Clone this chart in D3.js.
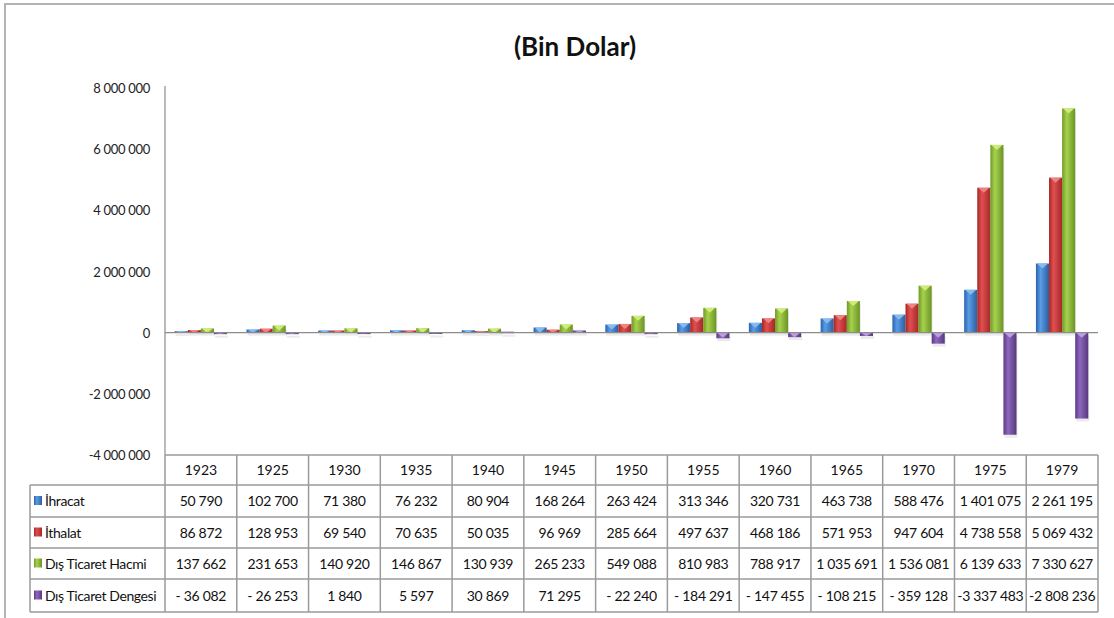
<!DOCTYPE html>
<html>
<head>
<meta charset="utf-8">
<script src="https://cdn.jsdelivr.net/npm/d3@7"></script>
<style>
  body { margin: 0; background: #fff; }
  text { font-family: Lato, "Liberation Sans", sans-serif; }
</style>
</head>
<body>
<div id="chart"></div>
<script>
// data (thousand dollars)
var years = ["1923", "1925", "1930", "1935", "1940", "1945", "1950", "1955", "1960", "1965", "1970", "1975", "1979"];
var ihracat = [50790, 102700, 71380, 76232, 80904, 168264, 263424, 313346, 320731, 463738, 588476, 1401075, 2261195];
var ithalat = [86872, 128953, 69540, 70635, 50035, 96969, 285664, 497637, 468186, 571953, 947604, 4738558, 5069432];
var hacim = [137662, 231653, 140920, 146867, 130939, 265233, 549088, 810983, 788917, 1035691, 1536081, 6139633, 7330627];
var denge = [-36082, -26253, 1840, 5597, 30869, 71295, -22240, -184291, -147455, -108215, -359128, -3337483, -2808236];
var seriesNames = ["İhracat", "İthalat", "Dış Ticaret Hacmi", "Dış Ticaret Dengesi"];
var yTicks = [-4000000, -2000000, 0, 2000000, 4000000, 6000000, 8000000];

var series = [
  { name: seriesNames[0], values: ihracat, c: ["#2a62ad", "#5a9ce6", "#2c5f9f"], tip: "#8cc0f2" },
  { name: seriesNames[1], values: ithalat, c: ["#a82626", "#e05050", "#a52828"], tip: "#f08a8a" },
  { name: seriesNames[2], values: hacim, c: ["#6f9a26", "#a6d24e", "#6b9324"], tip: "#d4f07e" },
  { name: seriesNames[3], values: denge, c: ["#5a3a85", "#8d67bd", "#57397f"], tip: "#c2a6e8" }
];

var W = 1114, H = 618;
var plotLeft = 165, plotRight = 1098, plotTop = 88, plotBottom = 455;
var rowH = [30, 32, 31, 31, 33];

var svg = d3.select("#chart").append("svg")
  .attr("width", W).attr("height", H);

var defs = svg.append("defs");
series.forEach(function (s, i) {
  var g = defs.append("linearGradient").attr("id", "grad" + i)
    .attr("x1", "0").attr("x2", "1").attr("y1", "0").attr("y2", "0");
  g.append("stop").attr("offset", "0").attr("stop-color", s.c[0]);
  g.append("stop").attr("offset", "0.35").attr("stop-color", s.c[1]);
  g.append("stop").attr("offset", "1").attr("stop-color", s.c[2]);
});

// outer frame
svg.append("path")
  .attr("d", "M5," + (H + 5) + " V4 H" + (W + 5))
  .attr("fill", "none").attr("stroke", "#b4b4b4").attr("stroke-width", 2);

// title
svg.append("text")
  .attr("x", 575).attr("y", 56)
  .attr("text-anchor", "middle")
  .style("font-size", "26px").style("font-weight", "bold")
  .attr("fill", "#111")
  .text("(Bin Dolar)");

var x = d3.scaleBand().domain(years).range([plotLeft, plotRight]).padding(0);
var x1 = d3.scaleBand().domain(d3.range(4)).range([9.7, x.bandwidth() - 9.7]).padding(0);
var y = d3.scaleLinear().domain([-4000000, 8000000]).range([plotBottom, plotTop]);

var fmt = function (v) {
  var s = d3.format(",")(Math.abs(v)).replace(/,/g, " ");
  if (v < 0) return (Math.abs(v) < 1000000 ? "- " : "-") + s;
  return s;
};

// y axis labels
svg.append("g").selectAll("text").data(yTicks).enter().append("text")
  .attr("x", 150).attr("y", function (d) { return y(d) + 5; })
  .attr("text-anchor", "end")
  .style("font-size", "13px").style("letter-spacing", "-0.3px").attr("fill", "#222")
  .text(function (d) { return d < 0 ? "-" + fmt(-d) : fmt(d); });

// axis line
svg.append("line").attr("x1", plotLeft).attr("x2", plotLeft).attr("y1", plotTop - 2).attr("y2", plotBottom)
  .attr("stroke", "#8c8c8c").attr("stroke-width", 1.2);

// bar shadows
var bars = svg.append("g");
series.forEach(function (s, i) {
  bars.append("g").selectAll("rect").data(s.values).enter().append("rect")
    .attr("x", function (d, j) { return x(years[j]) + x1(i) + 1; })
    .attr("y", function (d) { return Math.min(y(d), y(0)) + 3; })
    .attr("width", x1.bandwidth())
    .attr("height", function (d) { return Math.max(2, Math.abs(y(d) - y(0))); })
    .attr("fill", "#000").attr("opacity", 0.08);
});

// zero line
svg.append("line").attr("x1", plotLeft).attr("x2", plotRight).attr("y1", y(0)).attr("y2", y(0))
  .attr("stroke", "#8c8c8c").attr("stroke-width", 1.2);

series.forEach(function (s, i) {
  var g = bars.append("g");
  g.selectAll("rect").data(s.values).enter().append("rect")
    .attr("x", function (d, j) { return x(years[j]) + x1(i); })
    .attr("y", function (d) { return Math.min(y(d), y(0)); })
    .attr("width", x1.bandwidth())
    .attr("height", function (d) { return Math.max(1.5, Math.abs(y(d) - y(0))); })
    .attr("fill", "url(#grad" + i + ")");
  // bevel tip on top
  g.selectAll("path").data(s.values).enter().append("path")
    .attr("d", function (d, j) {
      var x0 = x(years[j]) + x1(i), w = x1.bandwidth();
      var t = Math.min(y(d), y(0));
      var h = Math.min(5, Math.abs(y(d) - y(0)));
      return "M" + (x0 + 1) + "," + t + " L" + (x0 + w - 1) + "," + t +
        " L" + (x0 + w / 2) + "," + (t + h) + " Z";
    })
    .attr("fill", s.tip).attr("opacity", 0.9);
});

// data table
var tbl = svg.append("g");
var gridColor = "#9a9a9a";
var rowY = [plotBottom];
rowH.forEach(function (h, i) { rowY.push(rowY[i] + h); });
var legendLeft = 30;

tbl.append("line").attr("x1", plotLeft).attr("x2", plotRight).attr("y1", rowY[0]).attr("y2", rowY[0])
  .attr("stroke", gridColor).attr("stroke-width", 1.5);
for (var r = 1; r < rowY.length; r++) {
  tbl.append("line").attr("x1", legendLeft).attr("x2", plotRight).attr("y1", rowY[r]).attr("y2", rowY[r])
    .attr("stroke", gridColor).attr("stroke-width", 1.5);
}
tbl.append("line").attr("x1", legendLeft).attr("x2", legendLeft).attr("y1", rowY[1]).attr("y2", rowY[5])
  .attr("stroke", gridColor).attr("stroke-width", 1.5);
years.concat(["end"]).forEach(function (yr, j) {
  var xx = j < years.length ? x(yr) : plotRight;
  tbl.append("line").attr("x1", xx).attr("x2", xx).attr("y1", rowY[0]).attr("y2", rowY[5])
    .attr("stroke", gridColor).attr("stroke-width", 1.5);
});

tbl.append("g").selectAll("text").data(years).enter().append("text")
  .attr("x", function (d) { return x(d) + x.bandwidth() / 2; })
  .attr("y", rowY[0] + rowH[0] / 2 + 5)
  .attr("text-anchor", "middle").style("font-size", "14px").attr("fill", "#111")
  .text(function (d) { return d; });

series.forEach(function (s, i) {
  var cy = rowY[i + 1] + rowH[i + 1] / 2;
  tbl.append("rect").attr("x", 34).attr("y", cy - 5).attr("width", 8).attr("height", 9)
    .attr("fill", "url(#grad" + i + ")");
  tbl.append("text").attr("x", 45).attr("y", cy + 5)
    .style("font-size", "14px").style("letter-spacing", "-0.4px").attr("fill", "#111").text(s.name);
  tbl.append("g").selectAll("text").data(s.values).enter().append("text")
    .attr("x", function (d, j) { return x(years[j]) + x.bandwidth() / 2; })
    .attr("y", cy + 5)
    .attr("text-anchor", "middle").style("font-size", "14px").style("letter-spacing", "-0.3px").attr("fill", "#111")
    .text(function (d) { return fmt(d); });
});
</script>
</body>
</html>
